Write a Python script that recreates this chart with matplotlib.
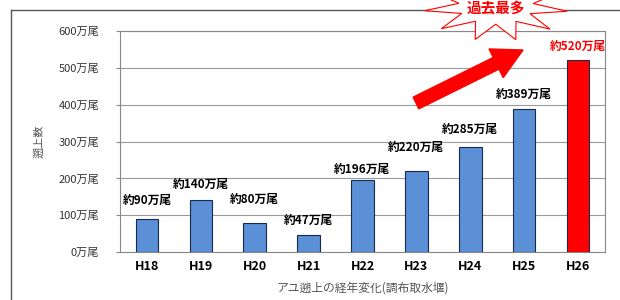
import matplotlib
matplotlib.use("Agg")
import matplotlib.pyplot as plt
from matplotlib.patches import Polygon, FancyArrow
import numpy as np

plt.rcParams['font.family'] = ['Noto Sans CJK JP', 'DejaVu Sans']

categories = ["H18", "H19", "H20", "H21", "H22", "H23", "H24", "H25", "H26"]
values = [90, 140, 80, 47, 196, 220, 285, 389, 520]
labels = ["約90万尾", "約140万尾", "約80万尾", "約47万尾", "約196万尾",
          "約220万尾", "約285万尾", "約389万尾", "約520万尾"]
yticks = [0, 100, 200, 300, 400, 500, 600]
ytick_labels = [f"{v}万尾" for v in yticks]
colors = ["#5b8fd6"] * 8 + ["#ff0000"]

W, H = 620, 300
fig = plt.figure(figsize=(6.2, 3.0), dpi=100)
ax = fig.add_axes([120 / W, 1 - 252 / H, 485 / W, 221 / H])

x = np.arange(len(categories))
ax.bar(x, values, width=0.42, color=colors, edgecolor="#1a2a4a", linewidth=0.8, zorder=3)
ax.set_xlim(-0.5, len(categories) - 0.5)
ax.set_ylim(0, 600)
ax.set_yticks(yticks)
ax.set_yticklabels(ytick_labels, fontsize=8, color="#333333")
ax.set_xticks(x)
ax.set_xticklabels(categories, fontsize=9, fontweight="bold")
ax.tick_params(axis="x", length=0, pad=6)
ax.tick_params(axis="y", length=3, color="#888888", pad=12)
ax.grid(axis="y", color="#9a9a9a", linewidth=0.8, zorder=0)
for s in ax.spines.values():
    s.set_color("#888888")
    s.set_linewidth(0.8)

# gap (px) between bar top and label centre
gaps = [19, 16, 23, 14, 11, 24, 18, 14, 14]
for i, (v, lab) in enumerate(zip(values, labels)):
    c = "#ff0000" if i == 8 else "black"
    ax.annotate(lab, (i, v), xytext=(0, gaps[i] * 0.72), textcoords="offset points",
                ha="center", va="center", fontsize=8.5, fontweight="bold", color=c)

ax.set_ylabel("遡上数", fontsize=8, color="#555555", labelpad=10)
ax.set_xlabel("アユ遡上の経年変化(調布取水堰)", fontsize=8.5, color="#555555", labelpad=6)

# overlay axes in pixel coordinates for annotations
ov = fig.add_axes([0, 0, 1, 1], facecolor="none")
ov.set_xlim(0, W)
ov.set_ylim(H, 0)
ov.axis("off")

# outer frame
ov.plot([11, 11], [10, 300], color="#555555", lw=1.0, zorder=1)
ov.plot([11, 620], [10, 10], color="#555555", lw=1.0, zorder=1)

# red arrow
ov.add_patch(FancyArrow(416, 103, 523 - 416, 50 - 103, width=13, head_width=32,
                        head_length=30, length_includes_head=True,
                        color="#ff0000", zorder=5))

# starburst
cx, cy = 496, 6
n = 11
pts = []
for k in range(2 * n):
    ang = np.pi * k / n + 0.15
    r = 1.0 if k % 2 == 0 else 0.52
    pts.append((cx + 72 * r * np.cos(ang), cy + 35 * r * np.sin(ang)))
ov.add_patch(Polygon(pts, closed=True, facecolor="white", edgecolor="#ff0000",
                     lw=0.8, zorder=4))
ov.text(496, 7, "過去最多", color="#ff0000", fontsize=10.5, fontweight="bold",
        ha="center", va="center", zorder=6)

fig.savefig("out.png", dpi=100)
